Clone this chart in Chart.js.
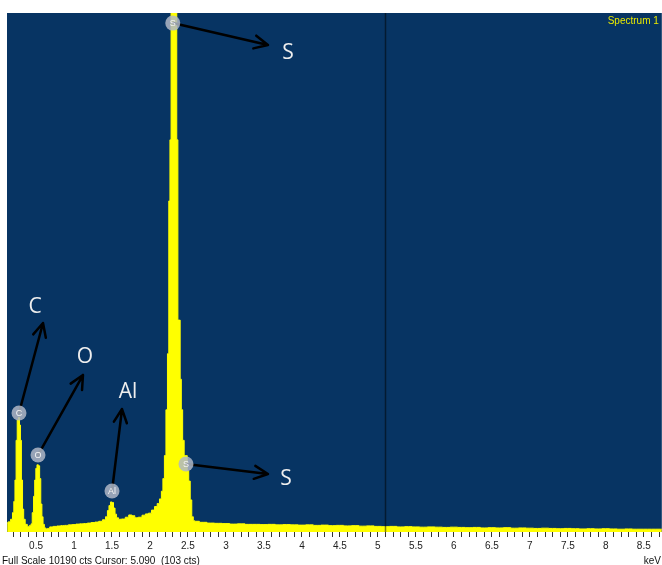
<!DOCTYPE html>
<html>
<head>
<meta charset="utf-8">
<script src="https://cdn.jsdelivr.net/npm/chart.js@4.4.1/dist/chart.umd.min.js"></script>
<style>
  html, body { margin: 0; padding: 0; background: #ffffff; }
  #wrap { width: 662px; height: 565px; }
</style>
</head>
<body>
<div id="wrap"><canvas id="spectrum" width="662" height="565"></canvas></div>
<script>
// EDS spectrum - energies (keV) and counts
const energies = [
  0.12, 0.15, 0.18, 0.20, 0.215, 0.23, 0.245, 0.26, 0.275, 0.29, 0.30, 0.315, 0.33, 0.345, 0.37, 0.40, 0.43,
  0.44, 0.46, 0.475, 0.49, 0.505, 0.52, 0.54, 0.555, 0.57, 0.585, 0.60, 0.62, 0.64, 0.66, 0.70,
  0.75, 0.80, 0.85, 0.90, 0.95, 1.00, 1.05, 1.10, 1.15, 1.20, 1.25, 1.30, 1.35, 1.40,
  1.43, 1.45, 1.47, 1.49, 1.51, 1.53, 1.55, 1.57, 1.60, 1.65, 1.70, 1.74, 1.78, 1.82, 1.87, 1.92, 1.96,
  2.00, 2.04, 2.08, 2.11, 2.14, 2.16, 2.18, 2.20, 2.22, 2.24, 2.255, 2.27, 2.285, 2.30, 2.315, 2.33, 2.345,
  2.36, 2.375, 2.39, 2.405, 2.42, 2.44, 2.46, 2.48, 2.50, 2.52, 2.54, 2.56, 2.58,
  2.6, 2.7, 2.8, 2.9, 3.0, 3.1, 3.2, 3.3, 3.4, 3.5, 3.6, 3.7, 3.8, 3.9, 4.0, 4.1, 4.2, 4.3, 4.4, 4.5,
  4.6, 4.7, 4.8, 4.9, 5.0, 5.1, 5.2, 5.3, 5.4, 5.5, 5.6, 5.7, 5.8, 5.9, 6.0, 6.1, 6.2, 6.3, 6.4, 6.5,
  6.6, 6.7, 6.8, 6.9, 7.0, 7.1, 7.2, 7.3, 7.4, 7.5, 7.6, 7.7, 7.8, 7.9, 8.0, 8.1, 8.2, 8.3, 8.4, 8.5,
  8.6, 8.7, 8.74
];
const counts = [
  180, 200, 250, 380, 600, 1020, 1800, 2200, 2250, 2100, 1800, 1020, 450, 250, 150, 110, 130,
  160, 380, 700, 1020, 1250, 1320, 1300, 1050, 550, 300, 150, 80, 60, 70, 100,
  110, 118, 125, 130, 140, 145, 155, 160, 165, 175, 185, 195, 210, 240,
  300, 420, 520, 590, 580, 470, 350, 280, 250, 255, 290, 335, 320, 280, 290, 330, 355,
  370, 430, 500, 560, 650, 800, 1050, 1500, 2400, 3500, 6500, 7700, 10190, 10190, 10190, 10190, 10190,
  7700, 4160, 4160, 3000, 2400, 1800, 1500, 1500, 1200, 1000, 630, 300, 220,
  210, 190, 175, 170, 165, 155, 160, 150, 150, 145, 150, 140, 145, 140, 135, 140, 130, 135, 125, 130,
  120, 125, 115, 120, 110, 105, 110, 100, 105, 100, 95, 100, 95, 90, 95, 90, 85, 90, 80, 85,
  80, 85, 75, 80, 75, 70, 75, 70, 65, 70, 65, 60, 65, 60, 65, 60, 55, 60, 55, 55,
  55, 55, 55
];

// axis range and ticks
const xMin = 0.118;
const xMax = 8.737;
const fullScale = 10190;
const minorStep = 0.1;
const majorTicks = [0.5, 1, 1.5, 2, 2.5, 3, 3.5, 4, 4.5, 5, 5.5, 6, 6.5, 7, 7.5, 8, 8.5];

// cursor
const cursorKeV = 5.09;
const cursorCounts = 103;

// peak identification (data units: keV / counts)
const peakNames = ['C', 'O', 'Al', 'S', 'S'];
const peakKeV = [0.276, 0.526, 1.50, 2.30, 2.474];
const peakCounts = [2336, 1511, 805, 9992, 1335];
const arrowTipKeV = [0.592, 1.118, 1.632, 3.553, 3.553];
const arrowTipCounts = [4103, 3082, 2414, 9560, 1139];
const labelKeV = [0.487, 1.145, 1.711, 3.816, 3.789];
const labelCounts = [4417, 3435, 2748, 9403, 1040];

const NAVY = '#073463';
const YELLOW = '#ffff00';

const isMajor = (v) => majorTicks.some(m => Math.abs(m - v) < 1e-6);

// 背景（プロット領域の紺色）
const plotBackground = {
    id: 'plotBackground',
    beforeDraw(chart) {
        const { ctx, chartArea: a } = chart;
        ctx.save();
        ctx.fillStyle = NAVY;
        ctx.fillRect(a.left, a.top, a.right - a.left, a.bottom - a.top);
        ctx.restore();
    }
};

// カーソル線・矢印・ピークラベル
const annotations = {
    id: 'annotations',
    afterDatasetsDraw(chart) {
        const { ctx, chartArea: a } = chart;
        const xs = chart.scales.x;
        const ys = chart.scales.y;

        ctx.save();
        // cursor line
        const cx = Math.round(xs.getPixelForValue(cursorKeV)) + 0.5;
        ctx.strokeStyle = 'rgba(0, 0, 0, 0.5)';
        ctx.lineWidth = 1.5;
        ctx.beginPath();
        ctx.moveTo(cx, a.top);
        ctx.lineTo(cx, a.bottom);
        ctx.stroke();

        // "Spectrum 1"
        ctx.fillStyle = '#e8e800';
        ctx.font = '10px "Liberation Sans", Arial, sans-serif';
        ctx.textAlign = 'right';
        ctx.textBaseline = 'middle';
        ctx.fillText('Spectrum 1', a.right - 3, a.top + 8);

        // arrows
        ctx.strokeStyle = '#000000';
        ctx.lineWidth = 2.5;
        ctx.lineCap = 'round';
        ctx.lineJoin = 'round';
        peakNames.forEach((name, i) => {
            const x0 = xs.getPixelForValue(peakKeV[i]);
            const y0 = ys.getPixelForValue(peakCounts[i]);
            const x1 = xs.getPixelForValue(arrowTipKeV[i]);
            const y1 = ys.getPixelForValue(arrowTipCounts[i]);
            const ang = Math.atan2(y1 - y0, x1 - x0);
            const head = 15;
            const spread = 0.45;
            ctx.beginPath();
            ctx.moveTo(x0, y0);
            ctx.lineTo(x1, y1);
            ctx.moveTo(x1 - head * Math.cos(ang - spread), y1 - head * Math.sin(ang - spread));
            ctx.lineTo(x1, y1);
            ctx.lineTo(x1 - head * Math.cos(ang + spread), y1 - head * Math.sin(ang + spread));
            ctx.stroke();
        });

        // peak markers
        peakNames.forEach((name, i) => {
            const x0 = xs.getPixelForValue(peakKeV[i]);
            const y0 = ys.getPixelForValue(peakCounts[i]);
            ctx.beginPath();
            ctx.arc(x0, y0, 7.5, 0, Math.PI * 2);
            ctx.fillStyle = 'rgba(175, 183, 198, 0.85)';
            ctx.fill();
            ctx.fillStyle = '#f4f4f4';
            ctx.font = '9px "Liberation Sans", Arial, sans-serif';
            ctx.textAlign = 'center';
            ctx.textBaseline = 'middle';
            ctx.fillText(name, x0, y0 + 0.5);
        });

        // element labels
        ctx.fillStyle = '#eeeeee';
        ctx.font = '21px "Open Sans", "Noto Sans", sans-serif';
        ctx.textAlign = 'center';
        ctx.textBaseline = 'middle';
        peakNames.forEach((name, i) => {
            ctx.fillText(name, xs.getPixelForValue(labelKeV[i]), ys.getPixelForValue(labelCounts[i]));
        });
        ctx.restore();
    },
    afterDraw(chart) {
        const { ctx, width } = chart;
        ctx.save();
        ctx.fillStyle = '#111111';
        ctx.font = '10px "Liberation Sans", Arial, sans-serif';
        ctx.textBaseline = 'middle';
        ctx.textAlign = 'left';
        ctx.fillText(`Full Scale ${fullScale} cts Cursor: ${cursorKeV.toFixed(3)}  (${cursorCounts} cts)`, 2, 561);
        ctx.textAlign = 'right';
        ctx.fillText('keV', width - 1, 561);
        ctx.restore();
    }
};

const ctx = document.getElementById('spectrum').getContext('2d');
new Chart(ctx, {
    type: 'line',
    data: {
        datasets: [{
            data: energies.map((e, i) => ({ x: e, y: counts[i] })),
            borderColor: YELLOW,
            backgroundColor: YELLOW,
            borderWidth: 1,
            fill: 'origin',
            stepped: 'middle',
            pointRadius: 0
        }]
    },
    options: {
        responsive: false,
        animation: false,
        events: [],
        layout: { padding: { left: 7, top: 13, right: 0, bottom: 0 } },
        plugins: {
            legend: { display: false },
            tooltip: { enabled: false }
        },
        scales: {
            x: {
                type: 'linear',
                min: xMin,
                max: xMax,
                bounds: 'data',
                afterBuildTicks: (axis) => {
                    const ticks = [];
                    for (let v = Math.ceil(xMin / minorStep) * minorStep; v <= xMax; v += minorStep) {
                        ticks.push({ value: Math.round(v * 10) / 10 });
                    }
                    axis.ticks = ticks;
                },
                afterFit: (axis) => { axis.height = 33; },
                border: { display: false },
                grid: {
                    drawOnChartArea: false,
                    drawTicks: true,
                    tickLength: 5,
                    tickColor: '#333333',
                    tickWidth: 1
                },
                ticks: {
                    autoSkip: false,
                    maxRotation: 0,
                    minRotation: 0,
                    padding: 3,
                    color: '#222222',
                    font: { family: '"Liberation Sans", Arial, sans-serif', size: 10 },
                    callback: (v) => isMajor(v) ? String(Number(v.toFixed(1))) : ''
                }
            },
            y: {
                display: false,
                min: 0,
                max: fullScale
            }
        }
    },
    plugins: [plotBackground, annotations]
});
</script>
</body>
</html>
